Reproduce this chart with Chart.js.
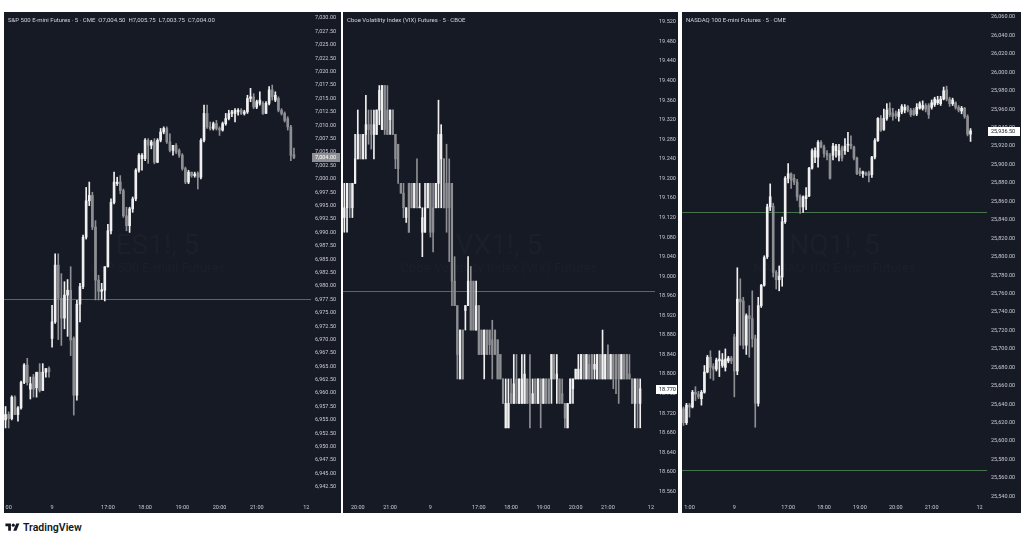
<!DOCTYPE html>
<html>
<head>
<meta charset="utf-8">
<script src="https://cdn.jsdelivr.net/npm/chart.js@4.4.1/dist/chart.umd.min.js"></script>
<style>
  html, body { margin: 0; padding: 0; background: #ffffff; }
  body { width: 1024px; height: 543px; position: relative; overflow: hidden; font-family: Roboto, "Liberation Sans", Arial, sans-serif; }
  .panel { position: absolute; top: 12px; height: 501px; background: #161a25; overflow: hidden; }
  .panel canvas { position: absolute; left: 0; top: 0; }
  .title { position: absolute; left: 4px; top: 4px; color: #d1d4dc; font-size: 6px; white-space: nowrap; }
  .logo { position: absolute; left: 5px; top: 521px; display: flex; align-items: center; gap: 3px; color: #131722; font-size: 10.5px; font-weight: 600; }
</style>
</head>
<body>
<div class="panel" style="left:4px;width:337px"><canvas id="es" width="337" height="501"></canvas>
  <div class="title">S&amp;P 500 E-mini Futures · 5 · CME&nbsp;&nbsp;O7,004.50&nbsp;&nbsp;H7,005.75&nbsp;&nbsp;L7,003.75&nbsp;&nbsp;C7,004.00</div></div>
<div class="panel" style="left:343px;width:335px"><canvas id="vx" width="335" height="501"></canvas>
  <div class="title">Cboe Volatility Index (VIX) Futures · 5 · CBOE</div></div>
<div class="panel" style="left:682px;width:339px"><canvas id="nq" width="339" height="501"></canvas>
  <div class="title">NASDAQ 100 E-mini Futures · 5 · CME</div></div>
<div class="logo">
  <svg width="15" height="11" viewBox="0 0 36 28"><path fill="#131722" d="M14 22H7V11H0V4h14v18z"/><circle fill="#131722" cx="20" cy="8" r="4"/><path fill="#131722" d="M28 22h-8l7.5-18h8L28 22z"/></svg>
  <span>TradingView</span>
</div>

<script>
// ── Data: candles as [open, high, low, close] ──
const esCandles = [
  [6955,6957.5,6953.5,6956],[6956,6956.5,6953.5,6955.25],[6955.25,6959.5,6955,6959.25],[6959.25,6959.5,6956,6956],
  [6956,6957.5,6954.75,6957.25],[6957.25,6962.25,6957,6962],[6962,6965.5,6961.75,6965.25],[6965.25,6966.5,6961.5,6962],
  [6960.75,6963,6958.9,6961.75],[6963,6963.5,6959.25,6960.75],[6961,6963.9,6959.25,6963.9],[6963.9,6965.5,6960.2,6960.5],
  [6960.5,6965.5,6960.5,6963.9],[6963.9,6964.6,6963,6964.6],[6964.6,6964.9,6963,6964],
  [6970.2,6976.4,6968.6,6973.3],[6973.3,6986,6973,6983.9],[6983.9,6986,6970,6977.7],[6977.7,6982.3,6968.9,6974],
  [6974,6980.8,6972,6978.3],[6978.3,6981.2,6970.6,6979.2],[6979.2,6983.6,6967,6969.9],[6970.2,6970.5,6955.9,6959.6],
  [6959.6,6977.3,6958.7,6976.6],[6976.6,6980.5,6973.3,6979.9],
  [6979.9,6989.5,6979.5,6989.1],[6989.1,6998.4,6988.75,6995.9],[6995.9,6999.4,6995,6996.9],[6996.9,6997.5,6990.5,6991],
  [6991,6992.2,6977.4,6981.1],[6981.1,6982,6977.4,6979],[6979,6980.5,6977.5,6979.3],[6979.2,6983.6,6977.2,6983.6],
  [6983.6,6991.5,6983.5,6990.3],[6990.3,6996.25,6989.7,6995.6],[6995.6,7001.25,6995.3,6999.4],[6999.1,7000.3,6998.75,6999.4],
  [6999.4,7000.6,6997.2,6997.8],[6997.8,6998.1,6992.8,6993.1],[6993.1,6994.7,6990.3,6991.25],[6991.25,6994.7,6990,6994.4],
  [6994.4,6996.6,6993.75,6996.25],[6996.25,7001.9,6995.9,7001.6],[7001.6,7004.7,7001.25,7004.4],[7003.75,7004.7,7001.6,7004.4],
  [7003.75,7007.5,7003.4,7007.2],[7007.2,7007.5,7002.9,7006.25],[7006.25,7007.2,7005.6,7006.9],[7006.9,7007.5,7002.8,7003.1],
  [7003.1,7007.5,7003,7007.2],[7007.2,7009.4,7006.9,7008.75],[7008.75,7009.7,7008.4,7009.4],[7009.4,7009.7,7006.6,7006.9],
  [7006.9,7008.4,7005,7005.3],[7005.3,7006.25,7004.4,7006.25],[7006.25,7006.6,7004.7,7005],[7005.3,7005.6,7004,7004.4],
  [7004.4,7004.7,7001.6,7001.9],[7001.9,7002.2,6999.1,6999.4],[6999.4,7001.6,6999.1,7001.25],[7001.25,7001.25,7000.3,7000.6],
  [7000.6,7001.25,7000.3,7000.9],[7001,7001.3,6998.1,7000.3],[7000.3,7007.5,7000,7007.2],[7007.2,7013.75,7006.9,7012.2],
  [7012.2,7013.75,7009.4,7009.7],[7009.7,7010.6,7009.1,7009.4],[7009.4,7010.6,7009.1,7010.3],[7010.3,7010.9,7009.1,7009.4],
  [7009.4,7009.7,7008.1,7009.1],[7009.1,7010.6,7008.9,7010.3],[7010.3,7012.2,7010,7011.25],[7011.25,7012.8,7011,7012.2],
  [7012.2,7012.8,7011.6,7012.5],[7012.2,7013.1,7010.6,7012.8],[7012.5,7013.1,7011.9,7012.8],[7012.8,7013.1,7012,7012.2],
  [7012.2,7012.8,7011.9,7012.5],[7012.5,7015.6,7012.2,7015],[7015,7016.9,7014.4,7015.3],[7015.3,7015.9,7013.1,7013.4],
  [7013.4,7014.7,7013.1,7014.4],[7014.1,7016.25,7013.75,7014.7],[7014.1,7014.4,7012,7012.2],[7012.2,7014.4,7012.2,7014.1],
  [7014.1,7017.2,7013.8,7016.6],[7016.6,7017.5,7014.7,7015.3],[7014.7,7016.25,7014.4,7015.6],[7015,7015.3,7012.5,7012.8],
  [7012.8,7013.1,7011.9,7012.2],[7012.2,7012.5,7010.6,7010.9],[7011.25,7011.6,7009.1,7009.7],[7009.7,7010,7003.4,7004.4],
  [7004.5,7005.75,7003.75,7004]
];

const vxCandles = [
  [19.12,19.19,19.09,19.14],[19.14,19.19,19.09,19.19],[19.19,19.19,19.12,19.14],[19.14,19.19,19.12,19.19],
  [19.19,19.29,19.19,19.24],[19.24,19.34,19.24,19.29],[19.29,19.29,19.24,19.24],[19.24,19.29,19.24,19.29],
  [19.29,19.37,19.24,19.31],[19.31,19.34,19.27,19.30],[19.31,19.34,19.26,19.29],[19.29,19.34,19.24,19.31],
  [19.29,19.34,19.29,19.34],[19.34,19.39,19.31,19.38],[19.30,19.39,19.30,19.39],[19.39,19.39,19.29,19.30],
  [19.34,19.39,19.29,19.29],[19.32,19.34,19.29,19.34],[19.34,19.34,19.29,19.29],[19.29,19.29,19.22,19.24],
  [19.27,19.27,19.19,19.22],[19.19,19.19,19.17,19.17],[19.17,19.19,19.12,19.14],[19.12,19.14,19.11,19.14],
  [19.19,19.19,19.09,19.09],[19.19,19.19,19.14,19.14],[19.14,19.19,19.14,19.19],[19.19,19.24,19.14,19.14],
  [19.14,19.19,19.14,19.14],[19.09,19.14,19.04,19.12],[19.09,19.19,19.09,19.14],[19.14,19.19,19.14,19.19],
  [19.19,19.19,19.08,19.09],[19.14,19.19,19.05,19.09],[19.14,19.19,19.14,19.19],[19.19,19.36,19.14,19.29],
  [19.24,19.31,19.14,19.29],[19.24,19.24,19.14,19.14],[19.19,19.27,19.09,19.14],[19.19,19.24,19.03,19.14],
  [19.19,19.19,18.94,18.99],[18.99,19.04,18.94,18.94],[18.94,18.94,18.79,18.84],[18.79,18.89,18.79,18.89],
  [18.89,18.89,18.79,18.79],[18.93,18.94,18.89,18.94],[18.94,19.04,18.94,18.99],[18.99,19.02,18.89,18.89],
  [18.99,18.99,18.89,18.89],[18.89,18.99,18.89,18.94],[18.94,18.94,18.84,18.84],[18.89,18.89,18.84,18.84],
  [18.84,18.89,18.79,18.89],[18.89,18.89,18.84,18.84],[18.89,18.89,18.84,18.86],[18.87,18.91,18.79,18.84],
  [18.89,18.89,18.84,18.84],[18.87,18.87,18.79,18.79],[18.84,18.84,18.79,18.79],[18.79,18.79,18.74,18.74],
  [18.69,18.79,18.69,18.74],[18.69,18.79,18.69,18.74],[18.76,18.79,18.74,18.74],[18.74,18.84,18.74,18.78],
  [18.79,18.84,18.74,18.74],[18.74,18.79,18.74,18.79],[18.74,18.84,18.74,18.79],[18.74,18.84,18.74,18.80],
  [18.79,18.79,18.74,18.74],[18.79,18.84,18.69,18.74],[18.74,18.79,18.74,18.76],[18.79,18.79,18.74,18.74],
  [18.74,18.79,18.74,18.79],[18.79,18.79,18.69,18.74],[18.74,18.79,18.74,18.79],[18.79,18.79,18.74,18.74],
  [18.79,18.79,18.74,18.74],[18.79,18.84,18.74,18.84],[18.84,18.84,18.79,18.79],[18.79,18.84,18.74,18.80],
  [18.79,18.79,18.74,18.74],[18.76,18.79,18.74,18.74],[18.74,18.74,18.69,18.71],[18.69,18.74,18.69,18.74],
  [18.74,18.79,18.74,18.79],[18.77,18.79,18.74,18.79],[18.79,18.81,18.79,18.81],[18.79,18.84,18.79,18.81],
  [18.79,18.84,18.79,18.84],[18.84,18.84,18.79,18.79],[18.79,18.84,18.79,18.84],[18.82,18.84,18.79,18.79],
  [18.84,18.84,18.79,18.79],[18.81,18.84,18.79,18.82],[18.79,18.84,18.79,18.84],[18.84,18.84,18.79,18.79],
  [18.79,18.89,18.79,18.84],[18.79,18.84,18.79,18.84],[18.84,18.86,18.79,18.79],[18.79,18.84,18.79,18.84],
  [18.84,18.84,18.77,18.79],[18.84,18.84,18.76,18.79],[18.84,18.84,18.74,18.79],[18.79,18.84,18.79,18.84],
  [18.84,18.84,18.79,18.79],[18.84,18.84,18.79,18.79],[18.80,18.84,18.79,18.79],[18.79,18.79,18.74,18.74],
  [18.74,18.79,18.69,18.79],[18.79,18.79,18.69,18.74],[18.74,18.79,18.69,18.77]
];

const nqCandles = [
  [25635,25637,25617,25620],[25620,25641,25618,25639],[25639,25641,25626,25637],[25637,25655,25636,25653],
  [25653,25659,25644,25651],[25651,25654,25646,25648],[25646,25655,25639,25653],[25653,25682,25652,25675],
  [25675,25693,25674,25691],[25691,25698,25668,25680],[25681,25684,25666,25678],[25678,25690,25676,25688],
  [25687,25698,25670,25689],[25682,25695,25680,25688],[25680,25700,25676,25689],[25687,25692,25685,25690],
  [25690,25692,25684,25687],[25713,25716,25648,25676],[25676,25788,25672,25754],
  [25754,25776,25704,25751],[25752,25756,25700,25704],[25704,25738,25694,25736],[25736,25747,25691,25733],
  [25733,25763,25702,25711],[25711,25715,25615,25641],[25641,25756,25638,25747],[25747,25770,25745,25769],
  [25769,25801,25768,25799],[25800,25857,25798,25854],[25854,25879,25850,25865],[25855,25858,25778,25783],
  [25783,25785,25765,25775],[25775,25790,25763,25779],[25778,25843,25768,25838],[25838,25887,25836,25885],
  [25885,25901,25880,25890],[25890,25891,25874,25883],[25885,25889,25878,25881],[25881,25884,25861,25865],
  [25865,25867,25847,25854],[25854,25866,25848,25865],[25863,25875,25851,25866],[25866,25897,25865,25896],
  [25896,25917,25895,25915],[25908,25918,25902,25915],[25908,25926,25897,25924],[25924,25926,25918,25919],
  [25919,25921,25908,25912],[25912,25915,25905,25910],[25910,25912,25884,25885],[25910,25923,25905,25920],
  [25915,25922,25908,25920],[25910,25922,25904,25915],[25918,25920,25904,25907],[25915,25928,25911,25920],
  [25921,25935,25914,25922],[25922,25931,25917,25920],[25919,25920,25905,25907],[25907,25908,25889,25890],
  [25893,25896,25888,25890],[25890,25893,25886,25892],[25891,25892,25888,25889],[25891,25893,25881,25888],
  [25889,25909,25886,25908],[25908,25928,25906,25926],[25926,25951,25925,25950],[25950,25953,25936,25937],
  [25938,25960,25937,25950],[25950,25966,25948,25959],[25961,25967,25952,25954],[25956,25961,25948,25952],
  [25955,25958,25950,25953],[25952,25960,25947,25957],[25957,25965,25955,25963],[25959,25965,25956,25962],
  [25963,25964,25957,25959],[25959,25961,25952,25954],[25959,25961,25953,25954],[25955,25966,25953,25962],
  [25961,25968,25960,25966],[25961,25969,25959,25964],[25964,25966,25957,25960],[25964,25966,25950,25954],
  [25962,25970,25960,25967],[25965,25973,25963,25971],[25967,25974,25965,25970],[25966,25974,25964,25971],
  [25971,25984,25970,25980],[25981,25985,25969,25971],[25971,25973,25963,25966],[25966,25972,25964,25970],
  [25967,25968,25960,25962],[25962,25964,25957,25959],[25958,25963,25955,25961],[25961,25962,25950,25952],
  [25952,25954,25931,25933],[25933,25939,25925,25936.5]
];

// ── Price axis ticks ──
const esTicks = [7030,7027.5,7025,7022.5,7020,7017.5,7015,7012.5,7010,7007.5,7005,7002.5,7000,6997.5,6995,6992.5,6990,6987.5,
  6985,6982.5,6980,6977.5,6975,6972.5,6970,6967.5,6965,6962.5,6960,6957.5,6955,6952.5,6950,6947.5,6945,6942.5];
const vxTicks = [19.52,19.48,19.44,19.40,19.36,19.32,19.28,19.24,19.20,19.16,19.12,19.08,19.04,19.00,18.96,18.92,18.88,
  18.84,18.80,18.76,18.72,18.68,18.64,18.60,18.56];
const nqTicks = [26060,26040,26020,26000,25980,25960,25940,25920,25900,25880,25860,25840,25820,25800,25780,25760,25740,
  25720,25700,25680,25660,25640,25620,25600,25580,25560,25540];

// ── Time axis labels (bar slot where each label sits) ──
const esTimeSlot = [1, 15, 33, 45, 57, 69, 81, 97];
const esTimeText = ['00', '9', '17:00', '18:00', '19:00', '20:00', '21:00', '12'];
const vxTimeSlot = [5, 17, 32, 50, 62, 74, 86, 98, 114];
const vxTimeText = ['20:00', '21:00', '9', '17:00', '18:00', '19:00', '20:00', '21:00', '12'];
const nqTimeSlot = [2, 17, 35, 47, 59, 71, 83, 99];
const nqTimeText = ['1:00', '9', '17:00', '18:00', '19:00', '20:00', '21:00', '12'];

// ── Horizontal levels & last prices ──
const esLevels = [6977.5];
const vxLevels = [18.97];
const nqLevels = [25849, 25569];
const esLast = 7004.00, vxLast = 18.770, nqLast = 25936.50;

// ── Styling ──
const UP = '#f0f0f0';
const DOWN = '#8e8f93';
const LEVEL = '#47744f';
const AXIS_TXT = '#c9cbd1';
const FONT_FAMILY = 'Roboto, "Liberation Sans", Arial, sans-serif';
const AXIS_FONT = { family: FONT_FAMILY, size: 5.5 };

const fmtComma = v => v.toLocaleString('en-US', { minimumFractionDigits: 2, maximumFractionDigits: 2 });
const fmtVix = v => v.toFixed(3);

function slotLabels(count, slots, texts) {
  const out = new Array(count).fill('');
  slots.forEach((s, j) => { out[s] = texts[j]; });
  return out;
}

const tvOverlay = {
  id: 'tvOverlay',
  beforeDatasetsDraw(chart, args, o) {
    const { ctx, chartArea: a } = chart;
    const y = chart.scales.y;
    const cx = (a.left + a.right) / 2, cy = (a.top + a.bottom) / 2;
    ctx.save();
    // faint symbol watermark
    ctx.fillStyle = 'rgba(255,255,255,0.025)';
    ctx.textAlign = 'center';
    ctx.textBaseline = 'middle';
    ctx.font = '28px ' + FONT_FAMILY;
    ctx.fillText(o.mark, cx, cy - 8);
    ctx.font = '13px ' + FONT_FAMILY;
    ctx.fillText(o.sub, cx, cy + 14);
    // horizontal levels
    ctx.strokeStyle = LEVEL;
    ctx.lineWidth = 1;
    o.levels.forEach(v => {
      const py = Math.round(y.getPixelForValue(v)) + 0.5;
      ctx.beginPath(); ctx.moveTo(a.left, py); ctx.lineTo(a.right, py); ctx.stroke();
    });
    ctx.restore();
  },
  afterDraw(chart, args, o) {
    // last price tag on the price scale
    const { ctx, chartArea: a, width } = chart;
    const py = Math.round(chart.scales.y.getPixelForValue(o.last));
    ctx.save();
    ctx.fillStyle = o.bg;
    ctx.fillRect(a.right + 1, py - 4, width - a.right - 2, 9);
    ctx.fillStyle = o.fg;
    ctx.font = '5.5px ' + FONT_FAMILY;
    ctx.textBaseline = 'middle';
    ctx.textAlign = 'left';
    ctx.fillText(o.fmt(o.last), a.right + 4, py + 0.5);
    ctx.restore();
  }
};

function makePanel(id, p) {
  const labels = slotLabels(p.slots, p.timeSlot, p.timeText);
  const bodies = p.candles.map(c => [Math.min(c[0], c[3]), Math.max(c[0], c[3])]);
  const wicks = p.candles.map(c => [c[2], c[1]]);
  const cols = p.candles.map(c => (c[3] >= c[0] ? UP : DOWN));
  return new Chart(document.getElementById(id), {
    type: 'bar',
    data: {
      labels,
      datasets: [
        { data: bodies, backgroundColor: cols, barThickness: p.bodyW, minBarLength: 1, grouped: false, order: 1 },
        { data: wicks, backgroundColor: cols, barThickness: 1, grouped: false, order: 2 },
      ],
    },
    options: {
      responsive: false,
      animation: false,
      events: [],
      layout: { padding: 0 },
      plugins: {
        legend: { display: false },
        tooltip: { enabled: false },
        tvOverlay: { mark: p.mark, sub: p.sub, levels: p.levels, last: p.last, bg: p.lastBg, fg: p.lastFg, fmt: p.fmt },
      },
      scales: {
        x: {
          grid: { display: false, drawTicks: false },
          border: { display: false },
          ticks: { autoSkip: false, maxRotation: 0, minRotation: 0, color: AXIS_TXT, font: AXIS_FONT, padding: 7 },
          afterFit: s => { s.height = 16; s.paddingLeft = 0; s.paddingRight = 0; },
        },
        y: {
          position: 'right',
          min: p.min,
          max: p.max,
          grid: { display: false, drawTicks: false },
          border: { display: false },
          ticks: { autoSkip: false, color: AXIS_TXT, font: AXIS_FONT, padding: 4, callback: v => p.fmt(v) },
          afterBuildTicks: s => { s.ticks = p.ticks.map(v => ({ value: v })); },
          afterFit: s => { s.width = p.axisW; s.paddingTop = 0; s.paddingBottom = 0; },
        },
      },
    },
    plugins: [tvOverlay],
  });
}

makePanel('es', {
  candles: esCandles, ticks: esTicks, timeSlot: esTimeSlot, timeText: esTimeText, slots: 99, bodyW: 2,
  min: 6940.61, max: 7031.14, axisW: 30, fmt: fmtComma, levels: esLevels,
  last: esLast, lastBg: '#8e8f93', lastFg: '#ffffff', mark: 'ES1!, 5', sub: 'S&P 500 E-mini Futures',
});
makePanel('vx', {
  candles: vxCandles, ticks: vxTicks, timeSlot: vxTimeSlot, timeText: vxTimeText, slots: 116, bodyW: 1.6,
  min: 18.5486, max: 19.5404, axisW: 23, fmt: fmtVix, levels: vxLevels,
  last: vxLast, lastBg: '#ffffff', lastFg: '#131722', mark: 'VX1!, 5', sub: 'Cboe Volatility Index (VIX) Futures',
});
makePanel('nq', {
  candles: nqCandles, ticks: nqTicks, timeSlot: nqTimeSlot, timeText: nqTimeText, slots: 102, bodyW: 2,
  min: 25539.4, max: 26065.4, axisW: 34, fmt: fmtComma, levels: nqLevels,
  last: nqLast, lastBg: '#ffffff', lastFg: '#131722', mark: 'NQ1!, 5', sub: 'NASDAQ 100 E-mini Futures',
});
</script>
</body>
</html>
